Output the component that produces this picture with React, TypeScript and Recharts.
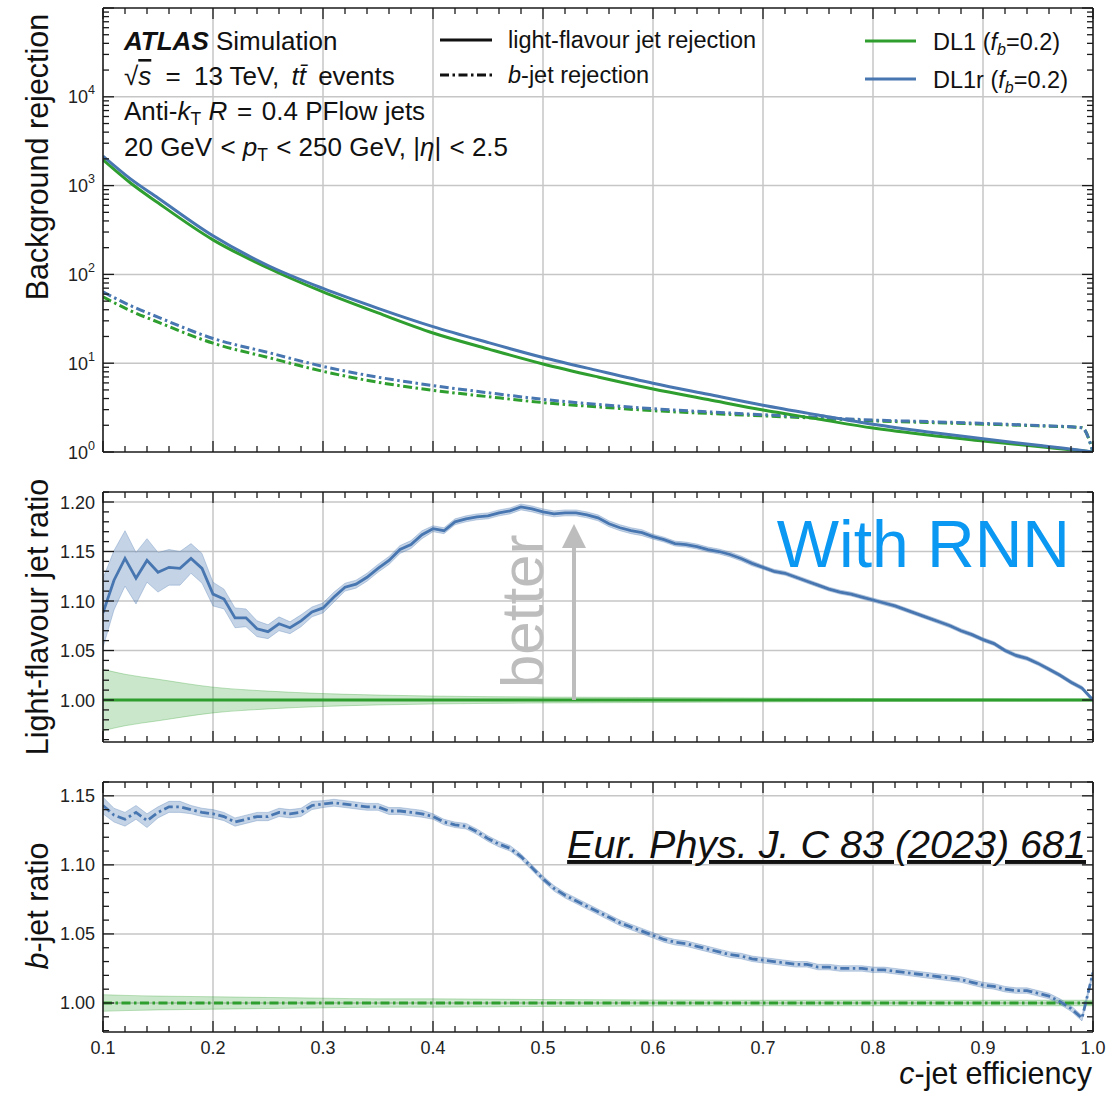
import React from 'react';
import { Area, CartesianGrid, ComposedChart, Line, XAxis, YAxis } from 'recharts';

// colours
const GREEN = '#2e9e2e';
const BLUE = '#4876b0';
const GREEN_BAND = 'rgba(46,158,46,0.25)';
const BLUE_BAND = 'rgba(72,118,176,0.32)';
const FONT = '"Liberation Sans", Arial, Helvetica, sans-serif';
const INK = '#1a1a1a';
const DASHDOT = '9 3.5 2.5 3.5';

// ---- top panel: rejection vs c-jet efficiency ----
const effX = [0.1, 0.125, 0.15, 0.2, 0.25, 0.3, 0.35, 0.4, 0.45, 0.5, 0.55, 0.6, 0.65, 0.7, 0.75, 0.8, 0.85, 0.9, 0.95, 0.99, 1.0];
const dl1Light = [1950, 1070, 640, 245, 118, 63.5, 36.8, 21.9, 14.5, 9.8, 7.0, 5.13, 3.9, 2.97, 2.35, 1.86, 1.55, 1.33, 1.15, 1.03, 1.0];
const dl1rLight = [2150, 1190, 725, 272, 126, 69.5, 41.5, 25.8, 17.1, 11.6, 8.25, 5.95, 4.46, 3.36, 2.61, 2.05, 1.68, 1.41, 1.19, 1.04, 1.0];
const dl1B = [55.8, 39, 29.0, 16.8, 11.6, 8.1, 6.1, 4.95, 4.2, 3.6, 3.22, 2.92, 2.72, 2.55, 2.4, 2.24, 2.15, 2.06, 1.97, 1.88, 1.0];
const dl1rB = [63.5, 44.5, 33.0, 19.0, 13.2, 9.2, 6.95, 5.6, 4.65, 3.92, 3.43, 3.07, 2.83, 2.63, 2.46, 2.29, 2.2, 2.1, 1.99, 1.88, 1.0];

// ---- ratio panels (DL1r / DL1) ----
const ratioX = [
  0.10, 0.11, 0.12, 0.13, 0.14, 0.15, 0.16, 0.17, 0.18, 0.19,
  0.20, 0.21, 0.22, 0.23, 0.24, 0.25, 0.26, 0.27, 0.28, 0.29,
  0.30, 0.31, 0.32, 0.33, 0.34, 0.35, 0.36, 0.37, 0.38, 0.39,
  0.40, 0.41, 0.42, 0.43, 0.44, 0.45, 0.46, 0.47, 0.48, 0.49,
  0.50, 0.51, 0.52, 0.53, 0.54, 0.55, 0.56, 0.57, 0.58, 0.59,
  0.60, 0.61, 0.62, 0.63, 0.64, 0.65, 0.66, 0.67, 0.68, 0.69,
  0.70, 0.71, 0.72, 0.73, 0.74, 0.75, 0.76, 0.77, 0.78, 0.79,
  0.80, 0.81, 0.82, 0.83, 0.84, 0.85, 0.86, 0.87, 0.88, 0.89,
  0.90, 0.91, 0.92, 0.93, 0.94, 0.95, 0.96, 0.97, 0.98, 0.99,
  1.00,
];
const lightRatio = [
  1.088, 1.121, 1.143, 1.123, 1.141, 1.129, 1.134, 1.133, 1.143, 1.133,
  1.107, 1.102, 1.083, 1.083, 1.072, 1.069, 1.077, 1.073, 1.080, 1.089,
  1.093, 1.104, 1.114, 1.117, 1.124, 1.133, 1.141, 1.152, 1.157, 1.167,
  1.173, 1.171, 1.180, 1.183, 1.185, 1.186, 1.189, 1.191, 1.195, 1.193,
  1.190, 1.188, 1.189, 1.189, 1.187, 1.184, 1.178, 1.174, 1.171, 1.169,
  1.165, 1.162, 1.158, 1.157, 1.155, 1.152, 1.150, 1.147, 1.143, 1.138,
  1.134, 1.130, 1.128, 1.124, 1.120, 1.116, 1.112, 1.109, 1.107, 1.104,
  1.101, 1.098, 1.095, 1.091, 1.087, 1.083, 1.079, 1.075, 1.070, 1.066,
  1.061, 1.057, 1.050, 1.045, 1.042, 1.037, 1.031, 1.025, 1.018, 1.012,
  1.000,
];
const lightErr = [
  0.035, 0.030, 0.028, 0.026, 0.022, 0.020, 0.018, 0.017, 0.015, 0.015,
  0.012, 0.010, 0.010, 0.009, 0.008, 0.007, 0.007, 0.006, 0.006, 0.005,
  0.005, 0.005, 0.004, 0.004, 0.004, 0.004, 0.004, 0.004, 0.004, 0.004,
  0.003, 0.003, 0.003, 0.003, 0.003, 0.003, 0.003, 0.003, 0.003, 0.003,
  0.003, 0.003, 0.003, 0.003, 0.003, 0.003, 0.003, 0.003, 0.003, 0.003,
  0.0025, 0.0025, 0.0025, 0.0025, 0.0025, 0.0025, 0.0025, 0.0025, 0.0025, 0.0025,
  0.002, 0.002, 0.002, 0.002, 0.002, 0.002, 0.002, 0.002, 0.002, 0.002,
  0.002, 0.002, 0.002, 0.002, 0.002, 0.002, 0.002, 0.002, 0.002, 0.002,
  0.002, 0.002, 0.002, 0.002, 0.002, 0.002, 0.002, 0.002, 0.002, 0.002,
  0.002,
];
const bRatio = [
  1.143, 1.136, 1.133, 1.138, 1.132, 1.138, 1.142, 1.142, 1.140, 1.138,
  1.137, 1.135, 1.131, 1.133, 1.135, 1.135, 1.138, 1.137, 1.138, 1.143,
  1.144, 1.145, 1.144, 1.143, 1.142, 1.142, 1.139, 1.139, 1.138, 1.137,
  1.135, 1.131, 1.129, 1.128, 1.124, 1.119, 1.115, 1.112, 1.106, 1.098,
  1.090, 1.083, 1.078, 1.074, 1.070, 1.066, 1.062, 1.058, 1.055, 1.052,
  1.049, 1.046, 1.044, 1.043, 1.041, 1.039, 1.037, 1.035, 1.034, 1.032,
  1.031, 1.030, 1.029, 1.028, 1.028, 1.026, 1.026, 1.025, 1.025, 1.025,
  1.024, 1.024, 1.023, 1.022, 1.021, 1.020, 1.019, 1.018, 1.017, 1.015,
  1.013, 1.012, 1.010, 1.009, 1.009, 1.007, 1.005, 1.001, 0.996, 0.989,
  1.022,
];
const bErr = [
  0.006, 0.005, 0.005, 0.005, 0.005, 0.004, 0.004, 0.004, 0.003, 0.003,
  0.003, 0.003, 0.003, 0.003, 0.003, 0.003, 0.003, 0.003, 0.003, 0.003,
  0.0025, 0.0025, 0.0025, 0.0025, 0.0025, 0.0025, 0.0025, 0.0025, 0.0025, 0.0025,
  0.002, 0.002, 0.002, 0.002, 0.002, 0.002, 0.002, 0.002, 0.002, 0.002,
  0.002, 0.002, 0.002, 0.002, 0.002, 0.002, 0.002, 0.002, 0.002, 0.002,
  0.002, 0.002, 0.002, 0.002, 0.002, 0.002, 0.002, 0.002, 0.002, 0.002,
  0.002, 0.002, 0.002, 0.002, 0.002, 0.002, 0.002, 0.002, 0.002, 0.002,
  0.002, 0.002, 0.002, 0.002, 0.002, 0.002, 0.002, 0.002, 0.002, 0.002,
  0.002, 0.002, 0.002, 0.002, 0.002, 0.002, 0.002, 0.002, 0.002, 0.002,
  0.002,
];

// DL1 reference (ratio to itself) and its statistical band
const refX = [0.1, 0.12, 0.15, 0.2, 0.25, 0.3, 0.35, 0.4, 0.5, 0.6, 0.7, 0.8, 0.9, 1.0];
const dl1Ratio = [1, 1, 1, 1, 1, 1, 1, 1, 1, 1, 1, 1, 1, 1];
const dl1LightErr = [0.031, 0.026, 0.021, 0.013, 0.009, 0.0065, 0.005, 0.004, 0.003, 0.0025, 0.002, 0.0015, 0.0012, 0.001];
const dl1BErr = [0.006, 0.0055, 0.005, 0.0045, 0.004, 0.0035, 0.003, 0.003, 0.0025, 0.0022, 0.002, 0.002, 0.002, 0.002];

// tick labels
const xMajor = [0.1, 0.2, 0.3, 0.4, 0.5, 0.6, 0.7, 0.8, 0.9, 1.0];
const lightMajor = [1.0, 1.05, 1.1, 1.15, 1.2];
const bMajor = [1.0, 1.05, 1.1, 1.15];
const logMajor = [1, 10, 100, 1000, 10000];

// minor tick positions
const xTicks = Array.from({ length: 46 }, (_, i) => +(0.1 + i * 0.02).toFixed(2));
const lightTicks = Array.from({ length: 26 }, (_, i) => +(0.96 + i * 0.01).toFixed(2));
const bTicks = Array.from({ length: 19 }, (_, i) => +(0.98 + i * 0.01).toFixed(2));
const logTicks: number[] = [];
for (let k = 0; k <= 4; k++) for (let m = 1; m <= 9; m++) logTicks.push(m * Math.pow(10, k));
logTicks.push(100000);

const series = (xs: number[], ys: number[]) => xs.map((x, i) => ({ x, y: ys[i] }));
const band = (xs: number[], ys: number[], es: number[]) =>
  xs.map((x, i) => ({ x, range: [ys[i] - es[i], ys[i] + es[i]] }));

const near = (v: number, list: number[]) => list.some((m) => Math.abs(m - v) < 1e-6);
const isDecade = (v: number) => Math.abs(Math.log10(v) - Math.round(Math.log10(v))) < 1e-9;

const FRAME = { stroke: INK, strokeWidth: 1.6 };

const bottomTick = (withLabel: boolean) => (p: any) => {
  const v = p.payload.value;
  const major = near(v, xMajor);
  return (
    <g>
      <line x1={p.x} x2={p.x} y1={p.y} y2={p.y - (major ? 11 : 6)} stroke={INK} strokeWidth={1.3} />
      {withLabel && major && (
        <text x={p.x} y={p.y + 22} textAnchor="middle" fontSize={18} fill="#222" fontFamily={FONT}>
          {v.toFixed(1)}
        </text>
      )}
    </g>
  );
};
const topTick = (p: any) => {
  const major = near(p.payload.value, xMajor);
  return <line x1={p.x} x2={p.x} y1={p.y} y2={p.y + (major ? 11 : 6)} stroke={INK} strokeWidth={1.3} />;
};
const leftTick = (majors: number[], fmt: (v: number) => React.ReactNode, isMaj: (v: number) => boolean) => (p: any) => {
  const v = p.payload.value;
  const major = isMaj(v);
  const label = near(v, majors) ? fmt(v) : null;
  return (
    <g>
      <line x1={p.x} x2={p.x + (major ? 11 : 6)} y1={p.y} y2={p.y} stroke={INK} strokeWidth={1.3} />
      {label !== null && (
        <text x={p.x - 8} y={p.y + 6.5} textAnchor="end" fontSize={18} fill="#222" fontFamily={FONT}>
          {label}
        </text>
      )}
    </g>
  );
};
const rightTick = (isMaj: (v: number) => boolean) => (p: any) => {
  const major = isMaj(p.payload.value);
  return <line x1={p.x} x2={p.x - (major ? 11 : 6)} y1={p.y} y2={p.y} stroke={INK} strokeWidth={1.3} />;
};

const logLabel = (v: number) => (
  <>
    <tspan>10</tspan>
    <tspan dy={-9} fontSize={12.5}>{Math.round(Math.log10(v))}</tspan>
  </>
);
const fixed2 = (v: number) => v.toFixed(2);
const ratioMajor = (v: number) => Math.abs(v * 20 - Math.round(v * 20)) < 1e-6;

const W = 1118;
const MARGIN_X = { left: 0, right: 24 };

// four axes forming the frame; axes need a 1px band or recharts skips them
const Axes = ({ yDomain, yTicks, log, leftRender, rightMajor, withXLabels }: any) => [
  <XAxis key="xb" xAxisId="b" type="number" dataKey="x" domain={[0.1, 1]} allowDataOverflow ticks={xTicks} interval={0}
    tickSize={0} tickMargin={0} height={1} axisLine={FRAME} tickLine={false} tick={bottomTick(withXLabels)} />,
  <XAxis key="xt" xAxisId="t" orientation="top" type="number" dataKey="x" domain={[0.1, 1]} allowDataOverflow ticks={xTicks}
    interval={0} tickSize={0} tickMargin={0} height={1} axisLine={FRAME} tickLine={false} tick={topTick} />,
  <YAxis key="yl" yAxisId="l" type="number" scale={log ? 'log' : 'linear'} domain={yDomain} allowDataOverflow ticks={yTicks}
    interval={0} width={103} tickSize={0} tickMargin={0} axisLine={FRAME} tickLine={false} tick={leftRender} />,
  <YAxis key="yr" yAxisId="r" orientation="right" type="number" scale={log ? 'log' : 'linear'} domain={yDomain} allowDataOverflow
    ticks={yTicks} interval={0} width={1} tickSize={0} tickMargin={0} axisLine={FRAME} tickLine={false} tick={rightTick(rightMajor)} />,
];

const common = { xAxisId: 'b', yAxisId: 'l', dot: false, activeDot: false, isAnimationActive: false } as const;

const TopPanel = () => (
  <ComposedChart width={W} height={476} margin={{ top: 7, bottom: 23, ...MARGIN_X }}>
    <CartesianGrid xAxisId="b" yAxisId="l" stroke="#c6c6c6" strokeWidth={1.5}
      verticalValues={xMajor.slice(1, -1)} horizontalValues={[10, 100, 1000, 10000]} />
    {Axes({
      yDomain: [1, 100000], yTicks: logTicks, log: true,
      leftRender: leftTick(logMajor, logLabel, isDecade), rightMajor: isDecade, withXLabels: false,
    })}
    <Line {...common} data={series(effX, dl1B)} dataKey="y" type="monotone" stroke={GREEN} strokeWidth={3} strokeDasharray={DASHDOT} />
    <Line {...common} data={series(effX, dl1rB)} dataKey="y" type="monotone" stroke={BLUE} strokeWidth={3} strokeDasharray={DASHDOT} />
    <Line {...common} data={series(effX, dl1Light)} dataKey="y" type="monotone" stroke={GREEN} strokeWidth={3} />
    <Line {...common} data={series(effX, dl1rLight)} dataKey="y" type="monotone" stroke={BLUE} strokeWidth={3} />
  </ComposedChart>
);

const LightPanel = () => (
  <ComposedChart width={W} height={266} margin={{ top: 7, bottom: 7, ...MARGIN_X }}>
    <CartesianGrid xAxisId="b" yAxisId="l" stroke="#c6c6c6" strokeWidth={1.5}
      verticalValues={xMajor.slice(1, -1)} horizontalValues={lightMajor} />
    {Axes({
      yDomain: [0.9576, 1.2101], yTicks: lightTicks, log: false,
      leftRender: leftTick(lightMajor, fixed2, ratioMajor), rightMajor: ratioMajor, withXLabels: false,
    })}
    <Area {...common} data={band(refX, dl1Ratio, dl1LightErr)} dataKey="range" type="monotone"
      fill={GREEN_BAND} fillOpacity={1} stroke="rgba(46,158,46,0.3)" strokeWidth={1} />
    <Area {...common} data={band(ratioX, lightRatio, lightErr)} dataKey="range" type="linear"
      fill={BLUE_BAND} fillOpacity={1} stroke="rgba(72,118,176,0.3)" strokeWidth={1} />
    <Line {...common} data={series(refX, dl1Ratio)} dataKey="y" type="linear" stroke={GREEN} strokeWidth={3} />
    <Line {...common} data={series(ratioX, lightRatio)} dataKey="y" type="linear" stroke={BLUE} strokeWidth={2.8} />
  </ComposedChart>
);

const BPanel = () => (
  <ComposedChart width={W} height={322} margin={{ top: 7, bottom: 63, ...MARGIN_X }}>
    <CartesianGrid xAxisId="b" yAxisId="l" stroke="#c6c6c6" strokeWidth={1.5}
      verticalValues={xMajor.slice(1, -1)} horizontalValues={bMajor} />
    {Axes({
      yDomain: [0.979, 1.16], yTicks: bTicks, log: false,
      leftRender: leftTick(bMajor, fixed2, ratioMajor), rightMajor: ratioMajor, withXLabels: true,
    })}
    <Area {...common} data={band(refX, dl1Ratio, dl1BErr)} dataKey="range" type="monotone"
      fill={GREEN_BAND} fillOpacity={1} stroke="rgba(46,158,46,0.3)" strokeWidth={1} />
    <Area {...common} data={band(ratioX, bRatio, bErr)} dataKey="range" type="linear"
      fill={BLUE_BAND} fillOpacity={1} stroke="rgba(72,118,176,0.3)" strokeWidth={1} />
    <Line {...common} data={series(refX, dl1Ratio)} dataKey="y" type="linear" stroke={GREEN} strokeWidth={2.8} strokeDasharray={DASHDOT} />
    <Line {...common} data={series(ratioX, bRatio)} dataKey="y" type="linear" stroke={BLUE} strokeWidth={2.8} strokeDasharray={DASHDOT} />
  </ComposedChart>
);

const Overlay = () => (
  <svg width={W} height={1096} style={{ position: 'absolute', left: 0, top: 0, pointerEvents: 'none' }} fontFamily={FONT} fill="#111">
    {/* ATLAS label block (extra dx mimics math spacing) */}
    <text x={124} y={50} fontSize={26}>
      <tspan fontWeight="bold" fontStyle="italic">ATLAS</tspan>{' Simulation'}
    </text>
    <text x={124} y={85} fontSize={26}>
      {'√'}<tspan fontStyle="italic" style={{ textDecoration: 'overline' }}>s</tspan>
      <tspan dx={7}>{' ='}</tspan><tspan dx={6}>{' 13 TeV, '}</tspan>
      <tspan dx={5} fontStyle="italic">{'tt\u0304'}</tspan><tspan dx={5}>{' events'}</tspan>
    </text>
    <text x={124} y={120} fontSize={26}>
      {'Anti-'}<tspan fontStyle="italic">k</tspan><tspan fontSize={17.5} dy={5}>T</tspan>
      <tspan dy={-5}> </tspan><tspan fontStyle="italic">R</tspan>
      <tspan dx={2.5}>{' ='}</tspan><tspan dx={2.5}>{' 0.4 PFlow jets'}</tspan>
    </text>
    <text x={124} y={156} fontSize={26}>
      {'20 GeV'}<tspan dx={1}>{' < '}</tspan><tspan fontStyle="italic">p</tspan><tspan fontSize={17.5} dy={5}>T</tspan>
      <tspan dy={-5} dx={1}>{' < 250 GeV, |'}</tspan><tspan fontStyle="italic">η</tspan>{'|'}<tspan dx={1}>{' < 2.5'}</tspan>
    </text>

    {/* legend: line styles */}
    <line x1={440} x2={492} y1={40} y2={40} stroke="#111" strokeWidth={3} />
    <text x={508} y={48} fontSize={23.5}>light-flavour jet rejection</text>
    <line x1={440} x2={492} y1={75} y2={75} stroke="#111" strokeWidth={3} strokeDasharray={DASHDOT} />
    <text x={508} y={83} fontSize={23.5}>
      <tspan fontStyle="italic">b</tspan>-jet rejection
    </text>

    {/* legend: taggers */}
    <line x1={865} x2={916} y1={41} y2={41} stroke={GREEN} strokeWidth={3} />
    <text x={933} y={50} fontSize={23.5}>
      {'DL1 ('}<tspan fontStyle="italic">f</tspan><tspan fontStyle="italic" fontSize={16} dy={5}>b</tspan>
      <tspan dy={-5}>=0.2)</tspan>
    </text>
    <line x1={865} x2={916} y1={79} y2={79} stroke={BLUE} strokeWidth={3} />
    <text x={933} y={88} fontSize={23.5}>
      {'DL1r ('}<tspan fontStyle="italic">f</tspan><tspan fontStyle="italic" fontSize={16} dy={5}>b</tspan>
      <tspan dy={-5}>=0.2)</tspan>
    </text>

    {/* middle panel annotations */}
    <text x={1070} y={567} fontSize={66} fill="#0a98f2" textAnchor="end">With RNN</text>
    <text transform="translate(543,688) rotate(-90)" fontSize={60} fill="#bdbdbd">better</text>
    <line x1={574} x2={574} y1={700} y2={544} stroke="#bdbdbd" strokeWidth={4} />
    <polygon points="574,524 562,548 586,548" fill="#bdbdbd" />

    {/* bottom panel reference */}
    <text x={1086} y={858} fontSize={39.5} fontStyle="italic" textAnchor="end" style={{ textDecoration: 'underline' }}>
      Eur. Phys. J. C 83 (2023) 681
    </text>

    {/* axis titles */}
    <text transform="translate(48,157) rotate(-90)" textAnchor="middle" fontSize={30.5}>Background rejection</text>
    <text transform="translate(48,617) rotate(-90)" textAnchor="middle" fontSize={30.5}>Light-flavour jet ratio</text>
    <text transform="translate(48,906) rotate(-90)" textAnchor="middle" fontSize={30.5}>
      <tspan fontStyle="italic">b</tspan>-jet ratio
    </text>
    <text x={1092} y={1084} textAnchor="end" fontSize={30.5}>
      <tspan fontStyle="italic">c</tspan>-jet efficiency
    </text>
  </svg>
);

export default function App() {
  return (
    <div style={{ position: 'absolute', left: 0, top: 0, width: W, height: 1096, background: '#fff', fontFamily: FONT }}>
      <div style={{ position: 'absolute', left: 0, top: 0 }}>
        <TopPanel />
      </div>
      <div style={{ position: 'absolute', left: 0, top: 484 }}>
        <LightPanel />
      </div>
      <div style={{ position: 'absolute', left: 0, top: 774 }}>
        <BPanel />
      </div>
      <Overlay />
    </div>
  );
}
